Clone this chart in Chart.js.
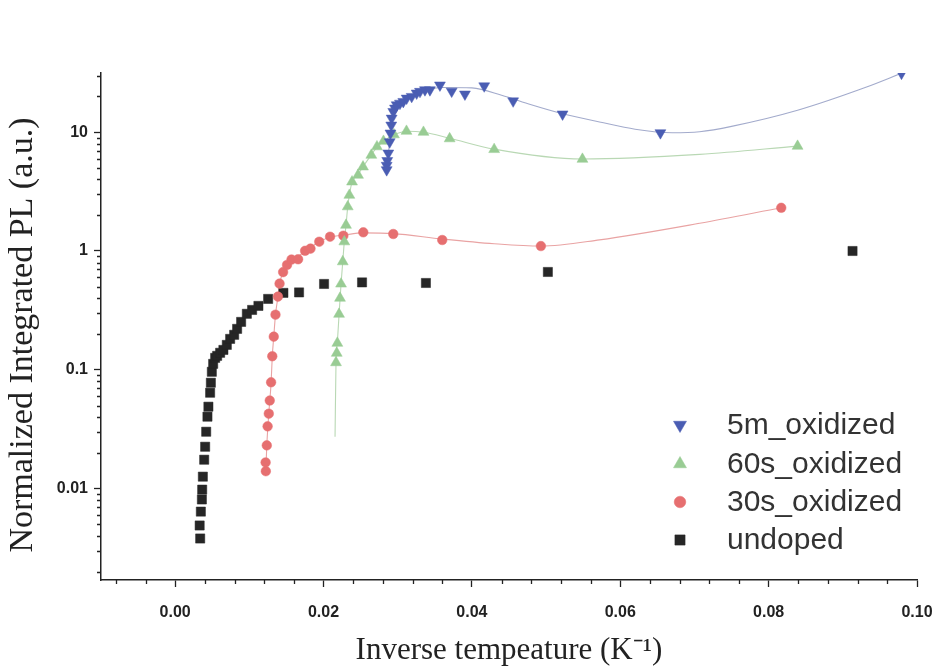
<!DOCTYPE html>
<html><head><meta charset="utf-8">
<script src="https://cdn.jsdelivr.net/npm/chart.js@4.4.1/dist/chart.umd.min.js"></script>
<style>html,body{margin:0;padding:0;background:#fff}canvas{display:block}</style>
</head><body>
<canvas id="c" width="941" height="669"></canvas>
<script>
const seriesNames = ['5m_oxidized', '60s_oxidized', '30s_oxidized', 'undoped'];
const xTickValues = [0, 0.02, 0.04, 0.06, 0.08, 0.10];
const yTickValues = [0.01, 0.1, 1, 10];

// 5m_oxidized (blue, down triangles)
const blueX = [0.02851,0.02851,0.02859,0.02873,0.02892,0.02902,0.02913,0.02918,0.0294,0.02963,0.02986,0.0303,0.03075,0.0312,0.03188,0.03255,0.033,0.03367,0.03434,0.03569,0.03727,0.03906,0.04166,0.04556,0.05222,0.06541,0.09791];
const blueY = [4.82,5.25,5.76,6.66,8.29,9.81,11.45,13.1,14.9,15.9,16.95,17.5,18.1,19.3,19.95,21.3,22.0,22.7,22.7,24.9,22.1,20.9,24.5,18.3,14.2,9.87,31.3];
const blueFitX = [0.02851,0.02873,0.02892,0.02913,0.0294,0.0299,0.0308,0.0320,0.0337,0.0360,0.0400,0.0440,0.0480,0.0522,0.0572,0.0620,0.0670,0.0707,0.0750,0.0839,0.0932,0.0979];
const blueFitY = [4.8,6.6,8.3,11.3,14.5,16.7,18.2,20.3,22.5,23.8,23.6,20.5,17.0,14.3,12.2,10.6,9.9,10.1,11.2,15.3,24,31.3];

// 60s_oxidized (green, up triangles)
const greenX = [0.02168,0.02178,0.02186,0.02209,0.02222,0.02236,0.02259,0.0228,0.02303,0.02326,0.02348,0.02384,0.02465,0.02532,0.02644,0.0272,0.02808,0.02949,0.03118,0.03347,0.0370,0.0430,0.0549,0.0839];
const greenY = [0.115,0.138,0.1675,0.294,0.401,0.528,0.813,1.197,1.65,2.36,2.95,3.82,4.35,5.11,6.41,7.55,8.40,9.53,10.2,10.0,8.82,7.16,5.93,7.63];
const greenFitX = [0.02155,0.02168,0.02186,0.02209,0.02236,0.02259,0.0228,0.02303,0.02326,0.02348,0.02384,0.02465,0.0253,0.0264,0.0272,0.0281,0.0295,0.0312,0.0335,0.037,0.043,0.0549,0.0707,0.0839];
const greenFitY = [0.0273,0.115,0.17,0.29,0.53,0.81,1.2,1.65,2.36,2.95,3.8,4.4,5.1,6.4,7.5,8.4,9.5,10.2,10.0,8.9,7.2,5.95,6.5,7.63];

// 30s_oxidized (red, circles)
const redX = [0.01222,0.01219,0.01235,0.01246,0.01262,0.01275,0.01293,0.01309,0.01329,0.01352,0.01385,0.01407,0.01455,0.01508,0.01568,0.01657,0.01751,0.01824,0.01942,0.02088,0.02267,0.02536,0.0294,0.0360,0.0493,0.0817];
const redY = [0.0140,0.0166,0.0231,0.0334,0.0427,0.0551,0.0785,0.130,0.190,0.291,0.413,0.531,0.664,0.763,0.847,0.852,1.004,1.047,1.197,1.319,1.345,1.436,1.39,1.237,1.10,2.31];
const redFitX = [0.01222,0.01235,0.01262,0.01293,0.01309,0.01329,0.01352,0.01385,0.01407,0.01455,0.01508,0.0157,0.0166,0.0175,0.0194,0.0209,0.0227,0.0254,0.0294,0.036,0.043,0.0493,0.0572,0.0707,0.0817];
const redFitY = [0.014,0.023,0.043,0.078,0.13,0.19,0.29,0.41,0.53,0.66,0.76,0.84,0.90,1.0,1.19,1.31,1.36,1.42,1.40,1.26,1.15,1.10,1.24,1.71,2.31];

// undoped (black, squares)
const blackX = [0.00337,0.0033,0.00346,0.0036,0.00364,0.00373,0.00391,0.00404,0.00418,0.00435,0.00448,0.00471,0.00481,0.00494,0.00512,0.00539,0.00566,0.00606,0.0065,0.00696,0.00741,0.00795,0.00835,0.00889,0.00966,0.01037,0.01122,0.01253,0.01459,0.0167,0.02007,0.02519,0.0338,0.05024,0.09131];
const blackY = [0.0038,0.00489,0.0064,0.0081,0.0098,0.0126,0.0175,0.0225,0.0301,0.0403,0.0489,0.0641,0.0778,0.0962,0.1122,0.126,0.131,0.139,0.147,0.162,0.182,0.197,0.221,0.253,0.296,0.319,0.345,0.395,0.444,0.448,0.528,0.544,0.538,0.666,1.0];

const colors = ['#4a5db3', '#99cc94', '#e66f70', '#262626'];
const fitColors = ['#a3abcc', '#b9d8b4', '#e9a3a3'];
const styles = ['triangle', 'triangle', 'circle', 'rect'];
const rotations = [180, 0, 0, 0];
const radii = [6.3, 6.3, 4.8, 6.5];
const legendRadii = [7.5, 7.5, 5.8, 7.2];

const pts = (xs, ys) => xs.map((x, i) => ({x, y: ys[i]}));
const markerSets = [pts(blueX, blueY), pts(greenX, greenY), pts(redX, redY), pts(blackX, blackY)];
const fitSets = [pts(blueFitX, blueFitY), pts(greenFitX, greenFitY), pts(redFitX, redFitY)];

const datasets = [];
markerSets.forEach((d, i) => datasets.push({
  label: seriesNames[i], data: d, showLine: false,
  pointStyle: styles[i], pointRadius: radii[i], pointRotation: rotations[i],
  backgroundColor: colors[i], borderColor: colors[i], borderWidth: 0.5
}));
fitSets.forEach((d, i) => datasets.push({
  label: seriesNames[i] + ' fit', data: d, showLine: true, pointRadius: 0,
  borderColor: fitColors[i], borderWidth: 1.1, cubicInterpolationMode: 'monotone', fill: false
}));

const axisColor = '#222';
const extras = {
  id: 'extras',
  afterDraw(chart) {
    const ctx = chart.ctx, xs = chart.scales.x, ys = chart.scales.y;
    ctx.save();
    ctx.strokeStyle = axisColor; ctx.lineWidth = 1.3;
    ctx.beginPath();
    for (let k = -2; k <= 25; k++) {
      if (k % 5 === 0) continue;
      const px = Math.round(xs.getPixelForValue(k * 0.004)) + 0.5;
      ctx.moveTo(px, xs.top); ctx.lineTo(px, xs.top + 4);
    }
    for (let e = -3; e <= 1; e++) {
      for (let m = 2; m <= 9; m++) {
        const v = m * Math.pow(10, e);
        if (v < ys.min || v > ys.max) continue;
        const py = Math.round(ys.getPixelForValue(v)) + 0.5;
        ctx.moveTo(ys.right, py); ctx.lineTo(ys.right - 4, py);
      }
    }
    ctx.stroke();
    // legend
    const lx = 680, tx = 727, rows = [425, 464, 502, 540];
    ctx.font = '30px "Liberation Sans", Arial, sans-serif';
    ctx.textBaseline = 'middle'; ctx.textAlign = 'left';
    seriesNames.forEach((name, i) => {
      ctx.fillStyle = colors[i]; ctx.strokeStyle = colors[i]; ctx.lineWidth = 0.5;
      Chart.helpers.drawPoint(ctx, {pointStyle: styles[i], rotation: rotations[i], radius: legendRadii[i], borderWidth: 0.5}, lx, rows[i]);
      ctx.fillStyle = '#333';
      ctx.fillText(name, tx, rows[i] + 1);
    });
    ctx.restore();
  }
};

new Chart(document.getElementById('c'), {
  type: 'scatter',
  data: {datasets},
  plugins: [extras],
  options: {
    responsive: false, animation: false, devicePixelRatio: 1,
    layout: {padding: {top: 73, right: 24, left: 0, bottom: 0}},
    plugins: {legend: {display: false}, tooltip: {enabled: false}},
    elements: {line: {tension: 0}},
    scales: {
      x: {
        type: 'linear', min: -0.01, max: 0.10,
        afterBuildTicks: s => { s.ticks = xTickValues.map(v => ({value: v})); },
        afterFit: s => { s.height = 89; s.paddingLeft = 0; s.paddingRight = 0; },
        grid: {drawOnChartArea: false, drawTicks: true, tickLength: 7, tickColor: axisColor, tickWidth: 1.3},
        border: {display: true, color: axisColor, width: 1.5},
        ticks: {autoSkip: false, maxRotation: 0, padding: 16, color: '#222',
          font: {family: '"Liberation Sans", Arial, sans-serif', weight: 'bold', size: 16},
          callback: v => Number(v).toFixed(2)},
        title: {display: true, text: 'Inverse tempeature (K\u207B\u00B9)', color: '#222',
          font: {family: '"Liberation Serif", "Times New Roman", serif', size: 31},
          padding: {top: 0, bottom: 0}}
      },
      y: {
        type: 'logarithmic', min: 0.0017, max: 31.5,
        afterBuildTicks: s => { s.ticks = yTickValues.map(v => ({value: v})); },
        afterFit: s => { s.width = 101; s.paddingTop = 0; s.paddingBottom = 0; },
        grid: {drawOnChartArea: false, drawTicks: true, tickLength: 7, tickColor: axisColor, tickWidth: 1.3},
        border: {display: true, color: axisColor, width: 1.5},
        ticks: {autoSkip: false, padding: 6, color: '#222',
          font: {family: '"Liberation Sans", Arial, sans-serif', weight: 'bold', size: 16},
          callback: v => String(v)},
        title: {display: true, text: 'Normalized Integrated PL (a.u.)  ', color: '#222',
          font: {family: '"Liberation Serif", "Times New Roman", serif', size: 34},
          padding: {top: 3, bottom: 0}}
      }
    }
  }
});
</script>
</body></html>
